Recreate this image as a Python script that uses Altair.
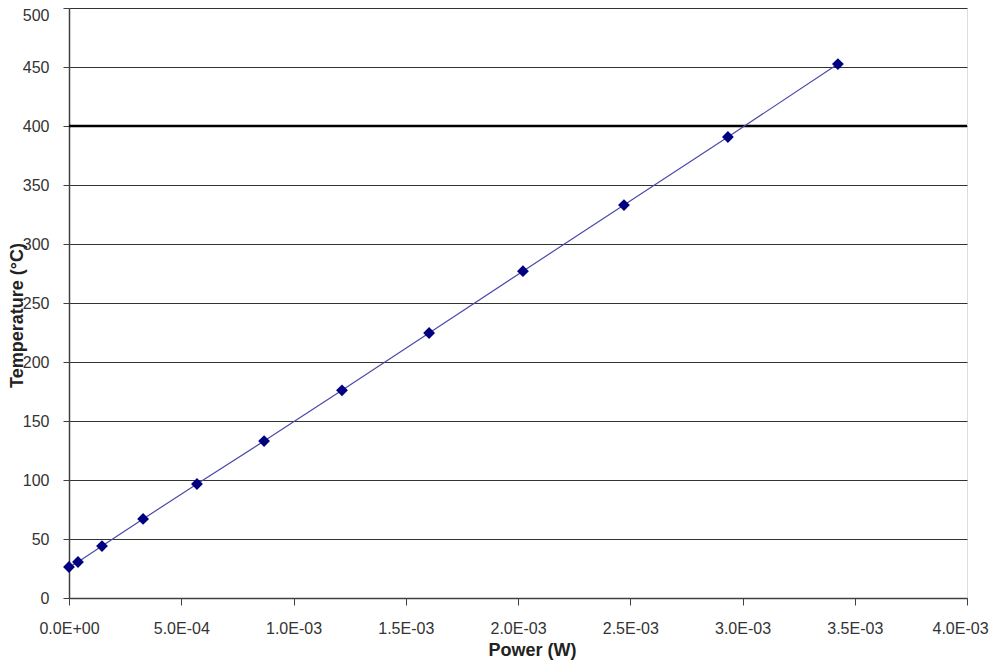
import altair as alt
import pandas as pd

power = [0.0, 4.0e-5, 1.47e-4, 3.30e-4, 5.70e-4, 8.69e-4, 1.216e-3, 1.604e-3,
         2.022e-3, 2.472e-3, 2.935e-3, 3.425e-3]
temperature = [26.3, 30.5, 44.0, 67.0, 96.6, 133.0, 176.0, 224.6, 277.0, 333.0, 390.7, 452.5]
highlight = [400]
x_ticks = [0, 0.0005, 0.001, 0.0015, 0.002, 0.0025, 0.003, 0.0035, 0.004]
y_ticks = list(range(0, 501, 50))

df = pd.DataFrame({"power": power, "temp": temperature})
hl = pd.DataFrame({"y": highlight})

xscale = alt.Scale(domain=[0, 0.004], nice=False, zero=False)
yscale = alt.Scale(domain=[0, 500], nice=False)

font = "Liberation Sans"

xaxis = alt.Axis(
    title="Power (W)", values=x_ticks, labelFlush=False,
    labelExpr="replace(replace(format(datum.value, '.1e'), 'e-', 'E-0'), 'e+', 'E+0')",
    grid=False, tickSize=7, tickColor="#404040", domainColor="#404040", domainWidth=1.5,
    labelFont=font, labelFontSize=16, labelColor="#333333", labelPadding=15,
    labelOffset={"condition": {"test": "datum.value >= 0.004", "value": -7}, "value": 0},
    titleFont=font, titleFontSize=18, titleFontWeight="bold", titleColor="#222222",
    titleX=463, titleY=52, titleBaseline="middle", titleAlign="center",
)
yaxis = alt.Axis(
    title="Temperature (°C)", values=y_ticks, labelFlush=False,
    grid=True, gridColor="#333333", gridWidth=1.2, gridOpacity=1,
    tickSize=6, tickColor="#404040", domainColor="#404040", domainWidth=1.5,
    labelFont=font, labelFontSize=16, labelColor="#333333", labelPadding=14,
    labelOffset={"condition": {"test": "datum.value == 500", "value": 7}, "value": 0},
    titleFont=font, titleFontSize=18, titleFontWeight="bold", titleColor="#222222",
    titleX=-52, titleY=307, titleAngle=-90, titleBaseline="middle", titleAlign="center",
)

base = alt.Chart(df)
line = base.mark_line(color="#4a4aa8", strokeWidth=1.2).encode(
    x=alt.X("power:Q", scale=xscale, axis=xaxis),
    y=alt.Y("temp:Q", scale=yscale, axis=yaxis),
)
pts = base.mark_point(shape="diamond", filled=True, color="#000080", size=140, opacity=1).encode(
    x=alt.X("power:Q", scale=xscale),
    y=alt.Y("temp:Q", scale=yscale),
)
rule = alt.Chart(hl).mark_rule(color="#000000", strokeWidth=2.5).encode(
    y=alt.Y("y:Q", scale=yscale),
)

chart = alt.layer(rule, line, pts).properties(
    width=898, height=590,
    autosize=alt.AutoSizeParams(type="none"),
    padding={"left": 61, "top": 0, "right": 25, "bottom": 62},
).configure_view(stroke="#333333", strokeWidth=1.2).configure(background="white")

chart.save("out.html", embed_options={"renderer": "svg", "actions": False})
